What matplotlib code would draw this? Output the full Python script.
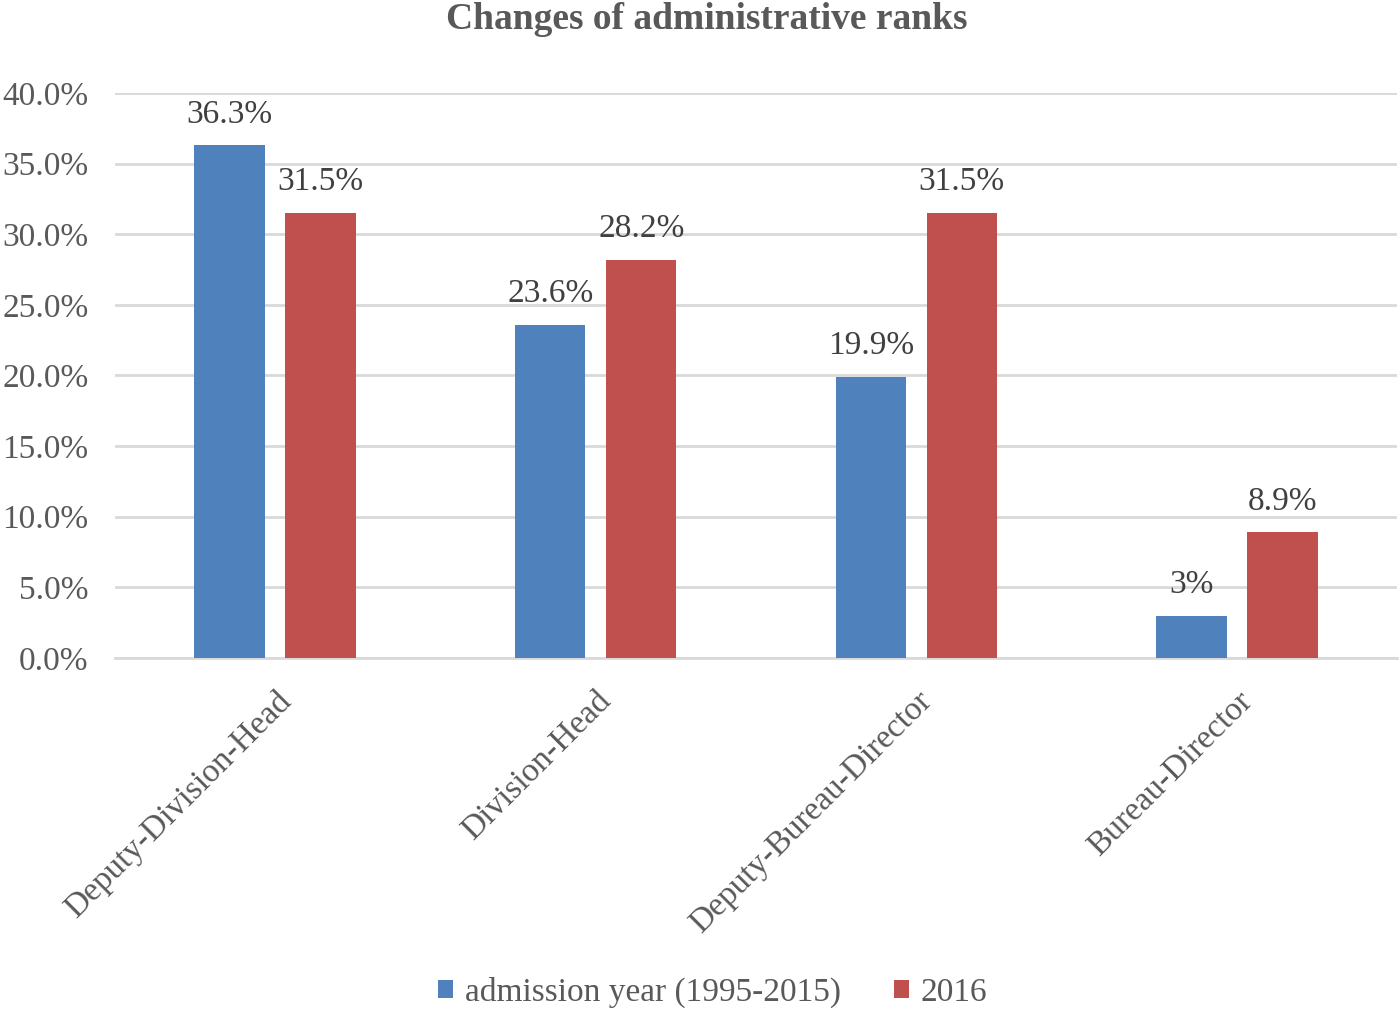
import matplotlib.pyplot as plt
import numpy as np

categories = ["Deputy-Division-Head", "Division-Head", "Deputy-Bureau-Director", "Bureau-Director"]
admission = [36.3, 23.6, 19.9, 3.0]
year2016 = [31.5, 28.2, 31.5, 8.9]
admission_labels = ["36.3%", "23.6%", "19.9%", "3%"]
year2016_labels = ["31.5%", "28.2%", "31.5%", "8.9%"]

plt.rcParams['font.family'] = ['Liberation Serif', 'DejaVu Serif']
txt = '#595959'

fig = plt.figure(figsize=(14, 10.1), dpi=100)
ax = fig.add_axes([0.082, 0.3485, 0.916, 0.5595])

x = np.arange(len(categories))
w = 0.22
off = 0.142
b1 = ax.bar(x - off, admission, w, color='#4F81BD', label='admission year (1995-2015)', zorder=3)
b2 = ax.bar(x + off, year2016, w, color='#C0504D', label='2016', zorder=3)

for rect, lab in zip(b1, admission_labels):
    ax.text(rect.get_x() + rect.get_width() / 2, rect.get_height() + 1.1, lab,
            ha='center', va='bottom', fontsize=24, color='#404040')
for rect, lab in zip(b2, year2016_labels):
    ax.text(rect.get_x() + rect.get_width() / 2, rect.get_height() + 1.1, lab,
            ha='center', va='bottom', fontsize=24, color='#404040')

ax.set_xlim(-0.5, 3.5)
ax.set_ylim(0, 40)
ax.set_yticks(np.arange(0, 41, 5))
ax.set_yticklabels([f"{v:.1f}%" for v in np.arange(0, 41, 5)])
ax.yaxis.grid(True, color='#D9D9D9', linewidth=2, zorder=0)
ax.set_axisbelow(True)
for s in ['top', 'right', 'left']:
    ax.spines[s].set_visible(False)
ax.spines['bottom'].set_color('#D9D9D9')
ax.spines['bottom'].set_linewidth(2)
ax.tick_params(axis='y', length=0, labelsize=24, labelcolor=txt, pad=19)
ax.tick_params(axis='x', length=0, labelsize=24, labelcolor=txt, pad=20)
ax.set_xticks(x)
ax.set_xticklabels(categories, rotation=45, ha='right', rotation_mode='anchor')

fig.text(0.505, 0.981, "Changes of administrative ranks", fontsize=27, fontweight='bold',
         color=txt, ha='center', va='center')

fig.legend(loc='lower center', bbox_to_anchor=(0.509, -0.028), ncol=2, frameon=False,
           fontsize=24, labelcolor=txt, handlelength=0.45, handleheight=0.45, columnspacing=1.6,
           handletextpad=0.35)

fig.savefig('out.png', dpi=100)
